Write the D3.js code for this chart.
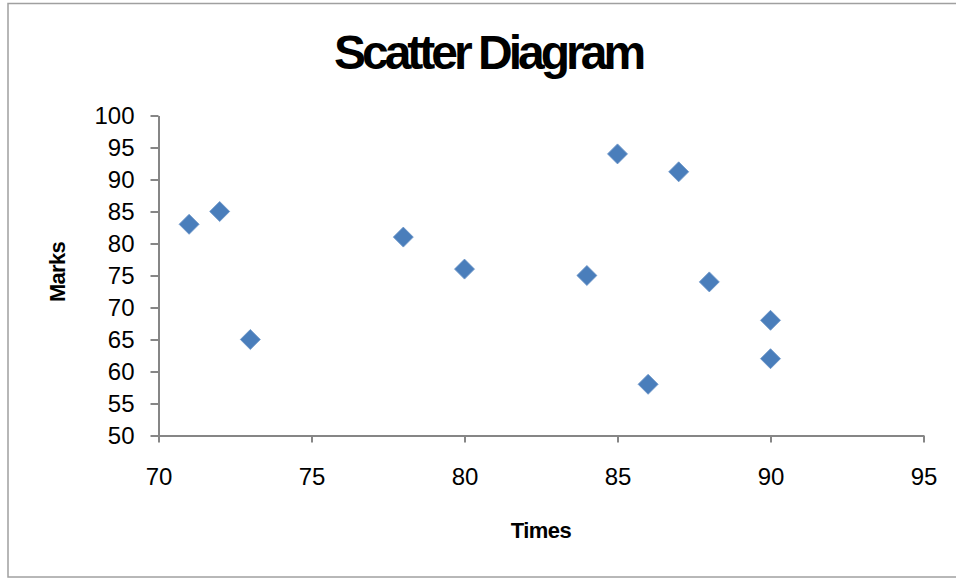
<!DOCTYPE html>
<html>
<head>
<meta charset="utf-8">
<script src="https://cdn.jsdelivr.net/npm/d3@7"></script>
<style>
  body { margin: 0; background: #fff; }
  svg { display: block; font-family: "Liberation Sans", Arial, sans-serif; }
</style>
</head>
<body>
<svg id="chart" width="956" height="579"></svg>
<script>
// data
const times = [71, 72, 73, 78, 80, 84, 85, 86, 87, 88, 90, 90];
const marks = [83, 85, 65, 81, 76, 75, 94, 58, 91.2, 74, 68, 62];
const xTicks = [70, 75, 80, 85, 90, 95];
const yTicks = [50, 55, 60, 65, 70, 75, 80, 85, 90, 95, 100];

const svg = d3.select("#chart");

// chart border
svg.append("rect").attr("x",8).attr("y",3.5).attr("width",960).attr("height",573.5)
  .attr("fill","none").attr("stroke","#a0a0a0").attr("stroke-width",1.5);

const x = d3.scaleLinear().domain([70,95]).range([158.5,923.5]);
const y = d3.scaleLinear().domain([50,100]).range([435.5,115.5]);

// y axis
const gy = svg.append("g").attr("transform","translate(158.5,0)")
  .call(d3.axisLeft(y).tickValues(yTicks).tickSize(8).tickPadding(16).tickSizeOuter(0));
// x axis
const gx = svg.append("g").attr("transform","translate(0,435.5)")
  .call(d3.axisBottom(x).tickValues(xTicks).tickSize(7).tickPadding(25).tickSizeOuter(0));

[gx, gy].forEach(g => {
  g.select(".domain").attr("stroke","#868686").attr("stroke-width",2);
  g.selectAll(".tick line").attr("stroke","#868686").attr("stroke-width",2);
  g.selectAll(".tick text").attr("fill","#000").attr("font-size",24)
    .attr("font-family","'Liberation Sans', Arial, sans-serif");
});
gx.selectAll(".tick text").attr("dy","0.71em");

// points
const pts = times.map((t,i) => ({t:t, m:marks[i]}));
svg.append("g").selectAll("path").data(pts).join("path")
  .attr("d", d3.symbol(d3.symbolSquare, 200)())
  .attr("transform", d => `translate(${x(d.t)},${y(d.m)}) rotate(45)`)
  .attr("fill","#4a7ebb").attr("stroke","#6b95c8").attr("stroke-width",0.8);

// titles
svg.append("text").attr("x",488).attr("y",69).attr("text-anchor","middle")
  .attr("font-size",48).attr("font-weight","bold").attr("letter-spacing",-4)
  .text("Scatter Diagram");

svg.append("text").attr("transform","translate(65,272) rotate(-90)").attr("text-anchor","middle")
  .attr("font-size",22).attr("font-weight","bold").attr("letter-spacing",-0.7)
  .text("Marks");

svg.append("text").attr("x",541).attr("y",538).attr("text-anchor","middle")
  .attr("font-size",22).attr("font-weight","bold").attr("letter-spacing",-0.5)
  .text("Times");
</script>
</body>
</html>
